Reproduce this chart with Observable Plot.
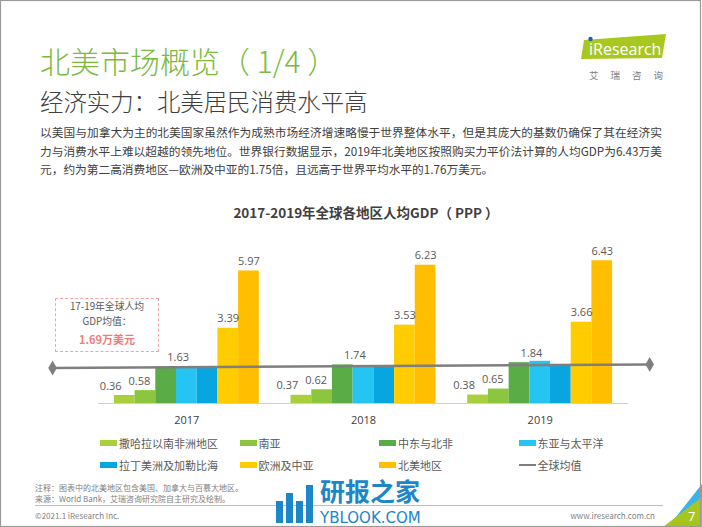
<!DOCTYPE html>
<html><head><meta charset="utf-8">
<script src="https://cdn.jsdelivr.net/npm/d3@7"></script>
<script src="https://cdn.jsdelivr.net/npm/@observablehq/plot@0.6"></script>
<style>
body{margin:0;background:#fff;}
#slide{position:relative;width:702px;height:527px;overflow:hidden;background:#fff;font-family:"Noto Sans CJK SC","Noto Sans",sans-serif;}
.abs{position:absolute;white-space:nowrap;}
.para{position:absolute;left:40px;width:622px;font-size:11.7px;color:#404040;white-space:nowrap;}
.just{text-align:justify;text-align-last:justify;}
.leg{position:absolute;font-size:11px;line-height:14px;color:#595959;display:flex;align-items:center;white-space:nowrap;}
.sw{display:inline-block;width:17px;height:6px;margin-right:2px;}
#chart{position:absolute;left:0;top:230px;}
.box{position:absolute;left:55px;width:104px;text-align:center;white-space:nowrap;}
</style></head>
<body><div id="slide">
<div class="abs" style="left:40px;top:38px;font-size:30px;line-height:44px;color:#7cb940;font-weight:300;">北美市场概览（ 1/4 ）</div>
<div class="abs" style="left:40px;top:85px;font-size:23.4px;line-height:32px;color:#404040;font-weight:300;">经济实力：北美居民消费水平高</div>
<div class="para just" style="top:123px;">以美国与加拿大为主的北美国家虽然作为成熟市场经济增速略慢于世界整体水平，但是其庞大的基数仍确保了其在经济实</div>
<div class="para just" style="top:142px;">力与消费水平上难以超越的领先地位。世界银行数据显示，2019年北美地区按照购买力平价法计算的人均GDP为6.43万美</div>
<div class="para" style="top:160px;">元，约为第二高消费地区—欧洲及中亚的1.75倍，且远高于世界平均水平的1.76万美元。</div>
<div class="abs" id="ctitle" style="left:0;width:732px;text-align:center;top:202px;font-size:13.5px;line-height:20px;font-weight:bold;color:#404040;"></div>
<div class="abs" style="left:55px;top:298px;width:102px;height:52px;border:1.3px dashed #f2a5a5;"></div>
<div class="box" style="top:301px;font-size:9.8px;line-height:11px;color:#595959;">17-19年全球人均</div>
<div class="box" style="top:316px;font-size:9.8px;line-height:11px;color:#595959;">GDP均值：</div>
<div class="box" id="avgnote" style="top:333px;font-size:11px;line-height:12px;font-weight:bold;color:#ef7d7d;"></div>
<div id="chart"></div>
<div id="legend"></div>
<div class="abs" style="left:35px;top:482px;font-size:8px;line-height:11px;color:#7f7f7f;">注释：图表中的北美地区包含美国、加拿大与百慕大地区。<br>来源：World Bank，艾瑞咨询研究院自主研究及绘制。</div>
<div class="abs" style="left:35px;top:505px;width:628px;height:0;border-top:1px solid #bfbfbf;"></div>
<div class="abs" style="left:35px;top:510px;font-size:8px;line-height:12px;color:#7f7f7f;">©2021.1 iResearch Inc.</div>
<div class="abs" style="left:560px;width:95px;text-align:right;top:510px;font-size:8px;line-height:12px;color:#7f7f7f;">www.iresearch.com.cn</div>
<div class="abs" style="left:276px;top:479px;width:40px;height:44px;">
  <div style="position:absolute;left:0;top:22px;width:7px;height:22px;background:#1c86c9"></div>
  <div style="position:absolute;left:10px;top:14px;width:7px;height:30px;background:#1c86c9"></div>
  <div style="position:absolute;left:20px;top:22px;width:7px;height:22px;background:#1c86c9"></div>
  <div style="position:absolute;left:30px;top:6px;width:7px;height:38px;background:#1c86c9"></div>
</div>
<svg class="abs" style="left:0;top:0;" width="702" height="527">
  <text x="320" y="501" font-family="Noto Sans CJK SC" font-weight="bold" font-size="25" fill="#1c86c9">研报之家</text>
  <text x="320" y="523" font-family="DejaVu Sans" font-size="15" fill="#1c86c9">YBLOOK.COM</text>
  <polygon points="584,40 666,34 662,58 581,59" fill="#a9c81f"/>
  <text x="589" y="55" font-family="Open Sans" font-size="16" fill="#fff">iResearch</text>
  <circle cx="590.5" cy="39" r="2.2" fill="#1a5fb4"/>
  <text x="589" y="79" font-family="Noto Sans CJK SC" font-size="9.5" fill="#7f7f7f" letter-spacing="12">艾瑞咨询</text>
  <polygon points="702,484 702,527 668,527" fill="#3bb3e6"/>
  <polygon points="702,497 702,527 663,527" fill="#a7c61d"/>
  <text x="688" y="521" font-family="Open Sans" font-size="13" fill="#fff">7</text>
  <rect x="0.5" y="0.5" width="700" height="526" fill="none" stroke="#9a9a9a" stroke-width="1.2"/>
</svg>
</div>
<script>
const chartTitle = "2017-2019年全球各地区人均GDP（ PPP ）";
const avgNote = "1.69万美元";
const years = [2017, 2018, 2019];
const yearLabels = ["2017", "2018", "2019"];
const regions = ["撒哈拉以南非洲地区", "南亚", "中东与北非", "东亚与太平洋", "拉丁美洲及加勒比海", "欧洲及中亚", "北美地区"];
const subSaharanAfrica = [0.36, 0.37, 0.38];
const southAsia = [0.58, 0.62, 0.65];
const middleEastNorthAfrica = [1.63, 1.74, 1.84];
const eastAsiaPacific = [1.62, 1.71, 1.90];
const latinAmericaCaribbean = [1.58, 1.65, 1.70];
const europeCentralAsia = [3.39, 3.53, 3.66];
const northAmerica = [5.97, 6.23, 6.43];
const labeledRegions = ["撒哈拉以南非洲地区", "南亚", "中东与北非", "欧洲及中亚", "北美地区"];
const globalAvgName = "全球均值";
const globalAvgX = [2016.24, 2019.62];
const globalAvgY = [1.60, 1.76];

document.getElementById("ctitle").textContent = chartTitle;
document.getElementById("avgnote").textContent = avgNote;

const colors = ["#a9cf3b", "#8cc63f", "#5aad46", "#26c4f2", "#08a6e1", "#ffcc00", "#ffbe00"];
const labelShiftPx = [-14, -6, 12, 0, 0, 0, 0];
const seriesValues = [subSaharanAfrica, southAsia, middleEastNorthAfrica, eastAsiaPacific, latinAmericaCaribbean, europeCentralAsia, northAmerica];

const data = [];
regions.forEach((r, i) => years.forEach((y, j) => data.push({region: r, idx: i, year: y, value: seriesValues[i][j]})));
const avgLine = globalAvgX.map((x, i) => ({x, y: globalAvgY[i]}));

const W = 702, H = 200, mL = 98, mR = 74, mT = 17.6, mB = 27;
const pxPerYear = (W - mL - mR) / 3;
const bw = 20.7 / pxPerYear;

const chart = Plot.plot({
  width: W, height: H, marginLeft: mL, marginRight: mR, marginTop: mT, marginBottom: mB,
  x: {domain: [2016.5, 2019.5], axis: null},
  y: {domain: [0, 7], axis: null},
  color: {domain: regions, range: colors},
  style: {fontFamily: "'Open Sans','Noto Sans CJK SC',sans-serif", overflow: "visible", background: "transparent"},
  marks: [
    Plot.ruleY([0], {x1: 2016.5, x2: 2019.5, stroke: "#d0d0d0", strokeWidth: 1}),
    Plot.rect(data, {
      x1: d => d.year + (d.idx - 3.5) * bw,
      x2: d => d.year + (d.idx - 2.5) * bw,
      y1: 0, y2: "value", fill: "region"
    }),
    Plot.line(avgLine, {x: "x", y: "y", stroke: "#7f7f7f", strokeWidth: 2.5}),
    Plot.dot(avgLine, {x: "x", y: "y", symbol: "diamond", r: 4.5, fill: "#7f7f7f"}),
    Plot.text(data.filter(d => labeledRegions.includes(d.region)), {
      x: d => d.year + (d.idx - 3) * bw + labelShiftPx[d.idx] / pxPerYear,
      y: "value", text: d => d.value.toFixed(2), lineAnchor: "bottom", dy: -6,
      fill: "#595959", fontSize: 11
    }),
    Plot.text(years, {x: d => d, y: 0, text: (d, i) => yearLabels[i], dy: 17, fill: "#404040", fontSize: 11})
  ]
});
document.getElementById("chart").appendChild(chart);

const legendItems = regions.map((r, i) => ({name: r, color: colors[i], line: false})).concat([{name: globalAvgName, color: "#7f7f7f", line: true}]);
const legendX = [100, 239.6, 379, 518.6];
const legendY = [436, 458];
const legendEl = document.getElementById("legend");
legendItems.forEach((it, k) => {
  const div = document.createElement("div");
  div.className = "leg";
  div.style.left = legendX[k % 4] + "px";
  div.style.top = legendY[Math.floor(k / 4)] + "px";
  const sw = document.createElement("span");
  sw.className = "sw";
  sw.style.background = it.color;
  if (it.line) { sw.style.height = "2px"; }
  div.appendChild(sw);
  div.appendChild(document.createTextNode(it.name));
  legendEl.appendChild(div);
});
</script>
</body></html>
